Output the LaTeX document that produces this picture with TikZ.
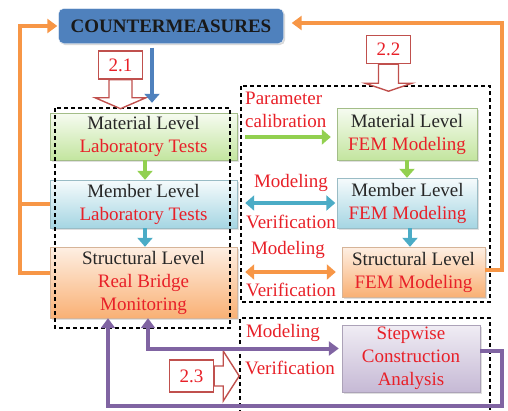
\documentclass[tikz,border=0pt]{standalone}
\usepackage{fontspec}
\setmainfont{Liberation Serif}
\usetikzlibrary{shadows,arrows.meta}

\definecolor{cmblue}{RGB}{79,129,189}
\definecolor{txtred}{RGB}{232,32,40}
\definecolor{numred}{RGB}{192,80,77}
\definecolor{lorange}{RGB}{247,150,70}
\definecolor{lpurple}{RGB}{128,100,162}
\definecolor{lgreen}{RGB}{146,208,80}
\definecolor{lcyan}{RGB}{75,172,198}

\newcommand{\rt}[1]{\textcolor{txtred}{#1}}

\begin{document}
\begin{tikzpicture}[x=1pt,y=-1pt,
			every node/.style={font=\fontsize{19}{23}\selectfont},
			level box/.style={draw,align=center,inner sep=2pt,text=black!85,
				drop shadow={opacity=0.25,shadow xshift=1.5pt,shadow yshift=-1.5pt}},
			green box/.style={level box,draw=lgreen!70!black!60,top color=lgreen!8,bottom color=lgreen!55},
			cyan box/.style={level box,draw=lcyan!70!black!50,top color=lcyan!5,bottom color=lcyan!50},
			orange box/.style={level box,draw=lorange!70!black!50,top color=lorange!15,bottom color=lorange!75},
			purple box/.style={level box,draw=lpurple!70!black!50,top color=lpurple!12,bottom color=lpurple!45},
			num box/.style={draw=numred,line width=1.4pt,fill=white,text=txtred,minimum width=44pt,minimum height=28pt,inner sep=0pt},
			hollow/.style={draw=numred,line width=1.4pt,fill=white,line join=miter},
			group/.style={draw,line width=1.6pt,dash pattern=on 4pt off 3pt},
			oline/.style={draw=lorange,line width=4pt,>={Triangle[length=10pt,width=14pt]}},
			pline/.style={draw=lpurple,line width=4pt,>={Triangle[length=10pt,width=14pt]}},
			step arrow/.style={line width=4pt,>={Triangle[length=9pt,width=15pt]}},
			note/.style={text=txtred,inner sep=0pt}
			]
		\useasboundingbox (0,0) rectangle (508,410);

		% headline
		\node [draw=white,fill=cmblue,rounded corners=5pt,minimum width=225pt,minimum height=35pt,
			font=\fontsize{19}{23}\selectfont\bfseries,text=black!90,
			drop shadow={opacity=0.3,shadow xshift=1.5pt,shadow yshift=-1.5pt}] (cm) at (171,26) {COUNTERMEASURES};

		% tests on the left
		\node [green box,minimum width=187pt,minimum height=47pt] (matlab) at (143.5,136.5) {Material Level\\\rt{Laboratory Tests}};
		\node [cyan box,minimum width=187pt,minimum height=48pt] (memlab) at (143.5,204) {Member Level\\\rt{Laboratory Tests}};
		\node [orange box,minimum width=187pt,minimum height=71pt] (strlab) at (143.5,282.5) {Structural Level\\\rt{Real Bridge}\\\rt{Monitoring}};

		% models on the right
		\node [green box,minimum width=140pt,minimum height=52pt] (matfem) at (407,134) {Material Level\\\rt{FEM Modeling}};
		\node [cyan box,minimum width=140pt,minimum height=50pt] (memfem) at (407.5,203) {Member Level\\\rt{FEM Modeling}};
		\node [orange box,minimum width=143pt,minimum height=50pt] (strfem) at (413.5,272) {Structural Level\\\rt{FEM Modeling}};
		\node [purple box,text=txtred,minimum width=138pt,minimum height=67pt] (step) at (411,358.5) {Stepwise\\Construction\\Analysis};

		% dashed groups
		\draw [group] (55,108) rectangle (230,328);
		\draw [group] (241,86) rectangle (490,302);
		\draw [group] (240,414) -- (240,318) -- (490,318) -- (490,414);

		% section marks with hollow arrows
		\node [num box] (n21) at (120.5,65) {2.1};
		\draw [hollow] (n21.south) ++(-11.5,0) -- ++(0,18) -- ++(-14,0) -- ([yshift=-29pt]n21.south)
			-- ++(25.5,-11) -- ++(-14,0) -- ++(0,-18) -- cycle;
		\node [num box] (n22) at (388.5,49.5) {2.2};
		\draw [hollow] (n22.south) ++(-10,0) -- ++(0,19) -- ++(-13.5,0) -- ([yshift=-27pt]n22.south)
			-- ++(23.5,-8) -- ++(-13.5,0) -- ++(0,-19) -- cycle;
		\node [num box,minimum height=32pt] (n23) at (191.5,376) {2.3};
		\draw [hollow] (n23.east) ++(0,-10) -- ++(9,0) -- ++(0,-15) -- ([xshift=25pt]n23.east)
			-- ++(-16,25) -- ++(0,-15) -- ++(-9,0) -- cycle;

		% labels between the groups
		\node [note,align=left,anchor=west] (calib) at (245,110) {Parameter\\calibration};
		\node [note] (mod1) at (291,183) {Modeling};
		\node [note] (ver1) at (291,222) {Verification};
		\node [note] (mod2) at (288,250) {Modeling};
		\node [note] (ver2) at (291,290) {Verification};
		\node [note] (mod3) at (283,333) {Modeling};
		\node [note] (ver3) at (290,368) {Verification};

		% arrows
		\draw [step arrow,cmblue,->,shorten <=4pt,shorten >=10pt] ([xshift=-19pt]cm.south) -- ([xshift=8.5pt]matlab.north);
		\draw [step arrow,lgreen,->] ([xshift=1.5pt]matlab.south) -- ([xshift=1.5pt]memlab.north);
		\draw [step arrow,lcyan,->] ([xshift=1.5pt]memlab.south) -- ([xshift=1.5pt]strlab.north);
		\draw [step arrow,lgreen,->] (matfem.south) -- (matfem.south |- memfem.north);
		\draw [step arrow,lcyan,->] ([xshift=2.5pt]memfem.south) -- ([xshift=2.5pt]memfem.south |- strfem.north);

		\draw [step arrow,lgreen,->,shorten <=8pt,shorten >=6pt] ([yshift=-0.5pt]matlab.east) -- ([yshift=-0.5pt]matlab.east -| matfem.west);
		\draw [step arrow,lcyan,<->,shorten <=8pt,shorten >=2pt] ([yshift=1pt]memlab.east) -- ([yshift=1pt]memlab.east -| memfem.west);
		\draw [step arrow,lorange,<->,shorten <=8pt,shorten >=6pt] (strfem.west -| strlab.east) -- (strfem.west);

		% feedback lines
		\coordinate (lcorner) at (20,26);
		\coordinate (rcorner) at (502,23);
		\coordinate (pcorner) at (502,406);
		\draw [oline,->,shorten >=1pt] ([yshift=10pt]strlab.west) -| (lcorner) -- (cm.west);
		\draw [oline] (memlab.west) -- (memlab.west -| lcorner);
		\draw [oline,->,shorten >=8pt] ([yshift=2pt]strfem.east) -| (rcorner) -- (rcorner -| cm.east);

		\draw [pline,<->,shorten >=3pt] ([xshift=4.5pt]strlab.south) |- ([yshift=10pt]step.west);
		\draw [pline,->] ([yshift=8pt]step.east) -| (pcorner) -| ([xshift=-35.5pt]strlab.south);

		\end{tikzpicture}
\end{document}
